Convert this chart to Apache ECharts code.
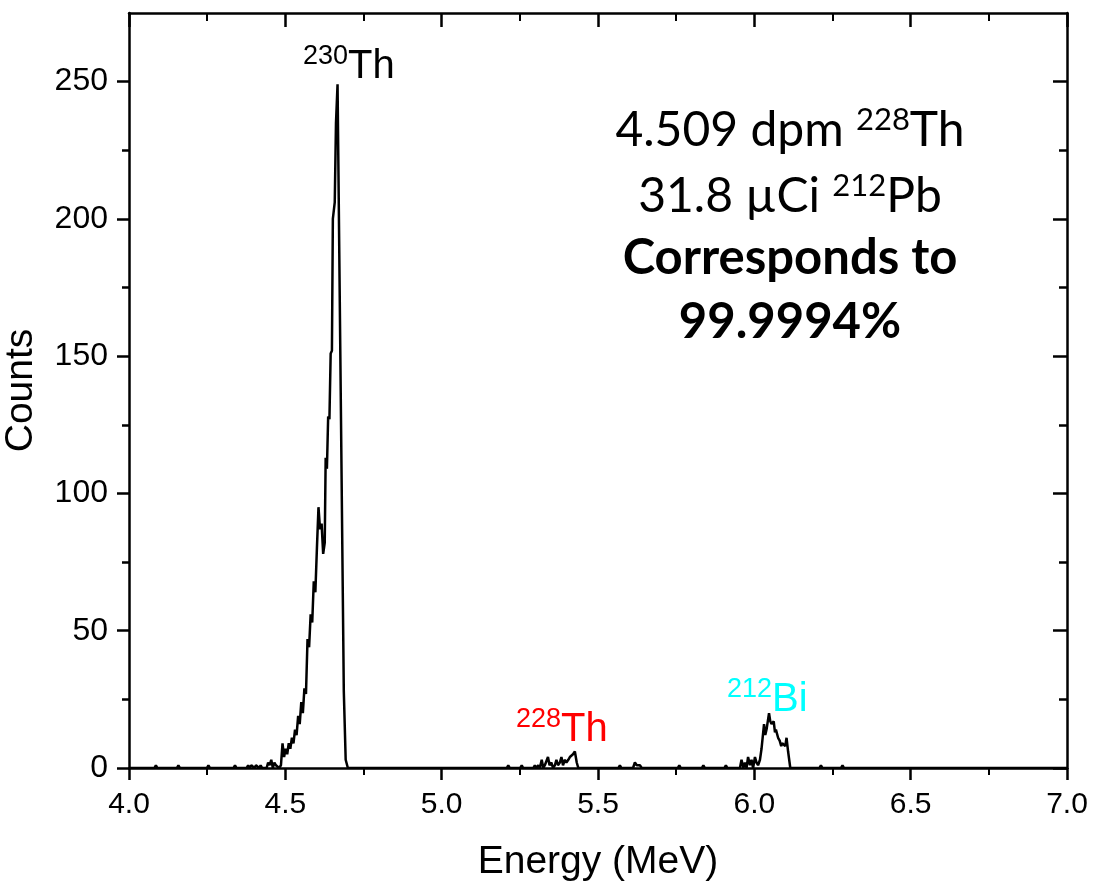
<!DOCTYPE html>
<html><head><meta charset="utf-8">
<script src="https://cdn.jsdelivr.net/npm/echarts@6/dist/echarts.min.js"></script>
<style>html,body{margin:0;padding:0;background:#fff}#c{width:1093px;height:885px}</style>
</head><body><div id="c"></div>
<script>
// ---- data ----
const energy = [
 4.000,4.081,4.086,4.091,4.153,4.158,4.163,4.249,4.254,4.259,4.334,4.339,4.344,
 4.376,4.381,4.386,4.391,4.396,4.401,4.406,4.411,4.416,4.421,4.426,
 4.440,4.445,4.450,4.455,4.460,4.465,4.470,4.475,4.480,4.486,4.491,4.496,4.501,4.506,
 4.511,4.516,4.521,4.526,4.531,4.536,4.541,4.546,4.551,4.556,4.561,4.566,4.571,4.576,
 4.581,4.586,4.591,4.596,4.601,4.606,4.611,4.616,4.621,4.626,4.629,4.633,4.637,4.641,
 4.645,4.649,4.652,4.658,4.662,4.667,4.687,4.693,4.700,
 5.208,5.213,5.218,5.251,5.256,5.261,5.293,5.298,5.303,5.309,5.314,5.320,5.325,5.330,
 5.335,5.340,5.345,5.351,5.356,5.362,5.367,5.372,5.378,5.383,5.388,5.394,5.399,5.405,
 5.410,5.420,5.426,5.432,5.437,
 5.565,5.570,5.575,5.612,5.618,5.624,5.629,5.634,5.640,5.755,5.760,5.765,5.832,5.837,5.842,
 5.904,5.909,5.914,5.954,5.959,5.965,5.970,5.975,5.980,5.986,5.991,5.996,6.002,6.007,6.012,
 6.018,6.023,6.031,6.035,6.039,6.047,6.051,6.055,6.062,6.066,6.069,6.076,6.081,6.086,6.089,
 6.094,6.099,6.103,6.108,6.115,6.208,6.213,6.218,6.277,6.282,6.287,7.000
];
const counts = [
 0,0,1,0,0,1,0,0,1,0,0,1,0,
 0,1,0,1,1,0,1,1,0,1,0,
 0,2,1,3,0,2,1,1,0,1,9,4,7,5,
 9,7,11,9,14,12,19,16,24,20,29,27,47,44,
 56,53,68,64,80,95,87,89,78,82,113,109,128,127,
 151,152,200,206,235,249,28,3,0,
 0,1,0,0,1,0,0,1,0,1,0,3,0,1,
 1,4,1,2,0,1,3,1,2,4,1,3,2,3,
 4,5,6,2,0,
 0,1,0,0,2,1,1,1,0,0,1,0,0,1,0,
 0,1,0,0,3,0,2,0,4,1,3,0,4,2,1,
 3,7,16,12,14,20,17,16,17,13,14,11,10,8,9,
 9,8,11,6,0,0,1,0,0,1,0,0
];
const yMajorTicks = [0, 50, 100, 150, 200, 250];
const yMinorTicks = [25, 75, 125, 175, 225];
const xName = 'Energy (MeV)';
const yName = 'Counts';

const FONT = 'Liberation Sans, Arial, sans-serif';
const ANNO = 'Lato, sans-serif';
const lineW = 2.5;
const axLine = {show: true, onZero: false, lineStyle: {color: '#000', width: lineW}};

function xAx(pos, inside, withLabel) {
  return {
    type: 'value', position: pos, min: 4, max: 7, interval: 0.5,
    axisLine: axLine,
    axisTick: {show: true, inside: inside, length: inside ? 14 : 12, lineStyle: {color: '#000', width: lineW}},
    minorTick: {show: true, splitNumber: 2, length: inside ? 8 : 7, lineStyle: {color: '#000', width: 2}},
    splitLine: {show: false},
    axisLabel: withLabel ? {show: true, fontSize: 30, color: '#000', fontFamily: FONT, margin: 22,
      formatter: v => v.toFixed(1)} : {show: false},
    name: withLabel ? xName : '',
    nameLocation: 'middle', nameGap: 75,
    nameTextStyle: {fontSize: 39, color: '#000', fontFamily: FONT}
  };
}
function yAx(pos, ticks, len, inside, showLine, withLabel) {
  return {
    type: 'value', position: pos, min: 0, max: 275, interval: 25,
    axisLine: showLine ? axLine : {show: false},
    axisTick: {show: true, inside: inside, length: len, customValues: ticks, lineStyle: {color: '#000', width: lineW}},
    splitLine: {show: false},
    axisLabel: withLabel ? {show: true, customValues: yMajorTicks, fontSize: 32, color: '#000', fontFamily: FONT, margin: 21}
                         : {show: false},
    name: withLabel ? yName : '',
    nameLocation: 'middle', nameGap: 88,
    nameTextStyle: {fontSize: 39, color: '#000', fontFamily: FONT}
  };
}

const chart = echarts.init(document.getElementById('c'), null, {renderer: 'canvas'});
const supLabel = (sup, main, color) => ({
  text: '{s|' + sup + '}{m|' + main + '}',
  fill: color,
  rich: {
    s: {fontSize: 27, fontFamily: FONT, fill: color, verticalAlign: 'top', lineHeight: 28},
    m: {fontSize: 40, fontFamily: FONT, fill: color, lineHeight: 40, padding: [8, 0, 0, 0]}
  }
});
const annoRich = {
  n: {fontSize: 48, fontFamily: ANNO, fill: '#000', lineHeight: 48, padding: [6, 0, 0, 0]},
  s: {fontSize: 31, fontFamily: ANNO, fill: '#000', verticalAlign: 'top', lineHeight: 30},
  b: {fontSize: 49, fontFamily: ANNO, fill: '#000', fontWeight: 'bold', lineHeight: 48}
};

chart.setOption({
  animation: false,
  backgroundColor: '#fff',
  grid: {left: 129, right: 26, top: 13, bottom: 117, containLabel: false, outerBoundsMode: 'none'},
  xAxis: [xAx('bottom', false, true), xAx('top', true, false)],
  yAxis: [
    yAx('left', yMajorTicks, 12, false, true, true),
    yAx('left', yMinorTicks, 7, false, false, false),
    yAx('right', yMajorTicks, 14, true, true, false),
    yAx('right', yMinorTicks, 8, true, false, false)
  ],
  series: [{
    type: 'line', xAxisIndex: 0, yAxisIndex: 0,
    data: energy.map((e, i) => [e, counts[i]]),
    showSymbol: false, symbol: 'none',
    lineStyle: {color: '#000', width: 2.5}
  }],
  graphic: [
    {type: 'text', x: 303, y: 43, style: Object.assign(supLabel('230', 'Th', '#000'), {align: 'left', verticalAlign: 'top'})},
    {type: 'text', x: 516, y: 706, style: Object.assign(supLabel('228', 'Th', '#ff0000'), {align: 'left', verticalAlign: 'top'})},
    {type: 'text', x: 727, y: 676, style: Object.assign(supLabel('212', 'Bi', '#00ffff'), {align: 'left', verticalAlign: 'top'})},
    {type: 'text', x: 790, y: 104, style: {text: '{n|4.509 dpm }{s|228}{n|Th}', rich: annoRich, align: 'center', verticalAlign: 'top'}},
    {type: 'text', x: 790, y: 170, style: {text: '{n|31.8 µCi }{s|212}{n|Pb}', rich: annoRich, align: 'center', verticalAlign: 'top'}},
    {type: 'text', x: 790, y: 234, style: {text: '{b|Corresponds to}', rich: annoRich, align: 'center', verticalAlign: 'top'}},
    {type: 'text', x: 790, y: 298, style: {text: '{b|99.9994%}', rich: annoRich, align: 'center', verticalAlign: 'top'}}
  ]
});
</script></body></html>
